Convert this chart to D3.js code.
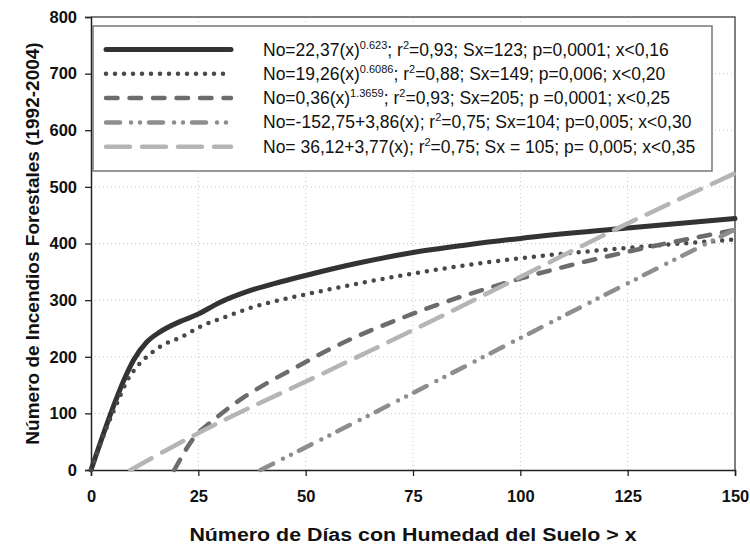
<!DOCTYPE html>
<html>
<head>
<meta charset="utf-8">
<script src="https://cdn.jsdelivr.net/npm/d3@7"></script>
<style>
  body { margin: 0; background: #fff; }
  svg { display: block; font-family: "Liberation Sans", Arial, sans-serif; }
</style>
</head>
<body>
<svg id="chart" width="750" height="544"></svg>
<script>
// values (x = days, y = number of fires)
const potX1 = [0, 5.2, 7.5, 9.9, 13, 16.1, 20.7, 24.6, 30, 36.3, 44, 51.8, 62, 75, 87, 100, 123, 150];
const potY1 = [0, 112, 156, 194, 226, 244, 262, 274, 296, 315, 332, 347, 365, 384, 397, 409, 426, 444];

const potX2 = [0, 3.7, 6.4, 8.3, 11, 13, 16.8, 21.1, 25.4, 31.6, 37.8, 44, 51.8, 62, 75, 100, 123, 150];
const potY2 = [0, 76, 124, 156, 185, 200, 221, 235, 253, 271, 288, 300, 313, 329, 347, 374, 391, 407];

const potX3 = [19.4, 24.2, 28.5, 34.7, 40.9, 47.9, 55, 75, 100, 123, 150];
const potY3 = [0, 59, 88, 124, 153, 182, 211, 276, 338, 382, 424];

const linX4 = [39.5, 75, 100, 123, 150];
const linY4 = [0, 136, 233, 322, 425];

const linX5 = [9.2, 24.2, 55, 75, 100, 123, 150];
const linY5 = [0, 62, 174, 247, 341, 428, 524];

const xTicks = [0, 25, 50, 75, 100, 125, 150];
const yTicks = [0, 100, 200, 300, 400, 500, 600, 700, 800];

// legend texts: even items normal, odd items superscript
const labels = [
  ["No=22,37(x)", "0.623", "; r", "2", "=0,93; Sx=123; p=0,0001; x<0,16"],
  ["No=19,26(x)", "0.6086", "; r", "2", "=0,88; Sx=149; p=0,006; x<0,20"],
  ["No=0,36(x)", "1.3659", "; r", "2", "=0,93; Sx=205; p =0,0001; x<0,25"],
  ["No=-152,75+3,86(x); r", "2", "=0,75; Sx=104; p=0,005; x<0,30"],
  ["No= 36,12+3,77(x); r", "2", "=0,75; Sx = 105; p= 0,005; x<0,35"]
];

const series = [
  {xs: potX1, ys: potY1, color: "#333333", width: 5,   dash: null},
  {xs: potX2, ys: potY2, color: "#484848", width: 4.5, dash: "0 9"},
  {xs: potX3, ys: potY3, color: "#6c6c6c", width: 4.5, dash: "11.5 12"},
  {xs: linX4, ys: linY4, color: "#8e8e8e", width: 4.5, dash: "14 11 0 9 0 9"},
  {xs: linX5, ys: linY5, color: "#b5b5b5", width: 4.5, dash: "24 12"}
];

const svg = d3.select("#chart");
const m = {left: 91, right: 735, top: 17, bottom: 470};

const x = d3.scaleLinear().domain([0, 150]).range([m.left, m.right]);
const y = d3.scaleLinear().domain([0, 800]).range([m.bottom, m.top]);

// grid
svg.append("g").selectAll("line").data(xTicks.slice(1, -1)).join("line")
  .attr("x1", d => x(d)).attr("x2", d => x(d))
  .attr("y1", m.top).attr("y2", m.bottom)
  .attr("stroke", "#c4c4c4").attr("stroke-dasharray", "1 3");
svg.append("g").selectAll("line").data(yTicks.slice(1, -1)).join("line")
  .attr("y1", d => y(d)).attr("y2", d => y(d))
  .attr("x1", m.left).attr("x2", m.right)
  .attr("stroke", "#c4c4c4").attr("stroke-dasharray", "1 3");

// plot frame (top / right)
svg.append("path")
  .attr("d", `M${m.left},${m.top}H${m.right}V${m.bottom}`)
  .attr("fill", "none").attr("stroke", "#555").attr("stroke-width", 1.5);

// axes
const xAxis = svg.append("g").attr("transform", `translate(0,${m.bottom})`)
  .call(d3.axisBottom(x).tickValues(xTicks).tickSizeOuter(0).tickSize(6).tickPadding(14));
const yAxis = svg.append("g").attr("transform", `translate(${m.left},0)`)
  .call(d3.axisLeft(y).tickValues(yTicks).tickSizeOuter(0).tickSize(6).tickPadding(8));
[xAxis, yAxis].forEach(a => {
  a.select(".domain").attr("stroke", "#222").attr("stroke-width", 1.5);
  a.selectAll(".tick line").attr("stroke", "#222").attr("stroke-width", 1.3);
  a.selectAll("text").attr("font-size", 16.5).attr("font-weight", "bold")
    .attr("font-family", "Liberation Sans, Arial, sans-serif").attr("fill", "#111");
});

// curves
const line = d3.line().x(d => x(d[0])).y(d => y(d[1])).curve(d3.curveMonotoneX);
svg.append("g").selectAll("path").data(series).join("path")
  .attr("d", s => line(s.xs.map((v, i) => [v, s.ys[i]])))
  .attr("fill", "none")
  .attr("stroke", s => s.color)
  .attr("stroke-width", s => s.width)
  .attr("stroke-linecap", "round")
  .attr("stroke-dasharray", s => s.dash);

// legend
const lg = svg.append("g");
lg.append("rect").attr("x", 93).attr("y", 26).attr("width", 619).attr("height", 145)
  .attr("fill", "#fff").attr("stroke", "#777").attr("stroke-width", 1.5);
const rowY = i => 49.5 + i * 24.3;
lg.selectAll("line.sample").data(series).join("line")
  .attr("x1", 106).attr("x2", 231)
  .attr("y1", (d, i) => rowY(i)).attr("y2", (d, i) => rowY(i))
  .attr("stroke", s => s.color).attr("stroke-width", s => s.width)
  .attr("stroke-linecap", "round").attr("stroke-dasharray", s => s.dash);
lg.selectAll("text").data(labels).join("text")
  .attr("x", 263).attr("y", (d, i) => rowY(i) + 6)
  .attr("font-size", 17.5).attr("fill", "#111")
  .each(function(parts) {
    const t = d3.select(this);
    parts.forEach((p, j) => {
      const sup = j % 2 === 1;
      t.append("tspan").text(p)
        .attr("font-size", sup ? 11 : 17.5)
        .attr("dy", sup ? -7 : (j > 0 ? 7 : 0));
    });
  });

// axis titles (the original is a bit stretched sideways)
svg.append("text")
  .attr("transform", `translate(${(m.left + m.right) / 2},541) scale(1.15,1)`)
  .attr("text-anchor", "middle").attr("font-size", 18.6).attr("font-weight", "bold")
  .attr("fill", "#111").text("Número de Días con Humedad del Suelo > x");
svg.append("text").attr("transform", `translate(39,${(m.top + m.bottom) / 2}) rotate(-90)`)
  .attr("text-anchor", "middle").attr("font-size", 19).attr("font-weight", "bold")
  .attr("fill", "#111").text("Número de Incendios Forestales (1992-2004)");
</script>
</body>
</html>
